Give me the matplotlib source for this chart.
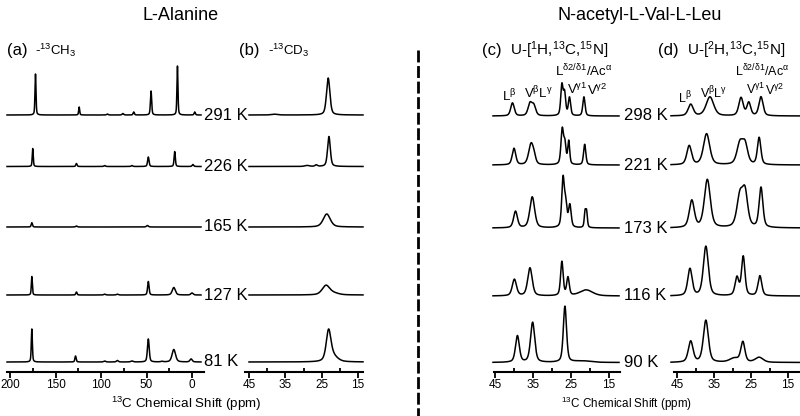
import numpy as np
import matplotlib
matplotlib.use('Agg')
import matplotlib.pyplot as plt
from matplotlib.lines import Line2D

plt.rcParams['font.family'] = ['Liberation Sans', 'DejaVu Sans']
plt.rcParams['mathtext.fontset'] = 'custom'
plt.rcParams['mathtext.rm'] = 'Liberation Sans'
plt.rcParams['mathtext.it'] = 'Liberation Sans:italic'
plt.rcParams['mathtext.bf'] = 'Liberation Sans:bold'

W, H = 800, 416

# temperatures (top to bottom)
ala_temps = ['291 K', '226 K', '165 K', '127 K', '81 K']
dip_temps = ['298 K', '221 K', '173 K', '116 K', '90 K']

# (a) L-alanine -13CH3 : peak position (ppm), height, width (ppm)
a_pos = [[172, 124, 93, 76, 64, 45, 16, -3],
         [175, 127, 96, 66, 48, 19, -1],
         [176, 127, 49],
         [176, 127, 96, 82, 48, 20, 0],
         [176, 128, 96, 82, 66, 48, 33, 20, 1]]
a_amp = [[41, 8, 1, 1.5, 3, 24, 49, 3],
         [18, 3, 1, 1, 9.5, 15, 2],
         [4.3, 1, 1.5],
         [18.5, 3, 0.8, 0.8, 13.5, 7.5, 2],
         [33, 6, 1, 1.5, 1, 23, 0.6, 12.5, 3]]
a_fwhm = [[1.3, 1.3, 2, 2, 1.6, 1.6, 1.3, 1.6],
          [1.3, 1.6, 2, 2, 1.9, 1.6, 2],
          [1.6, 2, 2.5],
          [1.3, 1.6, 2.5, 2.5, 1.9, 4, 3],
          [1.4, 1.6, 2.5, 2.5, 3, 2.3, 3, 4.5, 3]]

# (b) L-alanine -13CD3
b_pos = [[23.2, 38],
         [23.0, 26.5, 29],
         [23.6],
         [23.8, 21.5],
         [23.1, 22.0]]
b_amp = [[37, 0.8],
         [30, 1.5, 1],
         [13],
         [9.5, 1.5],
         [29, 6]]
b_fwhm = [[1.1, 2],
          [0.9, 0.8, 1.5],
          [2.3],
          [2.5, 3],
          [1.5, 3]]

# (c) N-Ac-Val-Leu U-[1H,13C,15N]
c_pos = [[40.4, 35.8, 34.8, 27.4, 26.7, 25.4, 21.6],
         [40.0, 35.5, 34.7, 27.3, 26.6, 25.6, 21.4],
         [39.6, 35.2, 27.1, 26.4, 25.3, 21.3, 20.9],
         [39.9, 35.8, 27.4, 25.8, 21.0],
         [39.1, 35.1, 26.6, 22.0]]
c_amp = [[13, 12, 10, 30, 22, 18, 19],
         [16.5, 21, 5, 35, 19, 23, 20.5],
         [16.5, 31, 48, 22, 22, 15, 15],
         [16.5, 28, 34, 18, 6],
         [26.5, 40, 56, 1.5]]
c_fwhm = [[1.1, 1.2, 1.2, 0.7, 0.7, 0.7, 0.7],
          [1.1, 1.5, 1.0, 0.8, 0.7, 0.6, 0.7],
          [1.2, 1.5, 0.8, 0.8, 0.8, 0.5, 0.5],
          [1.3, 1.4, 0.8, 0.8, 4],
          [1.2, 1.3, 1.0, 5]]

# (d) N-Ac-Val-Leu U-[2H,13C,15N]
d_pos = [[41.3, 36.1, 27.7, 25.6, 22.3],
         [41.7, 37.0, 28.0, 26.6, 22.8],
         [41.0, 36.8, 28.0, 26.6, 22.3],
         [41.5, 37.2, 28.8, 27.1, 22.6],
         [41.3, 37.2, 29.5, 27.2, 22.8]]
d_amp = [[11.5, 19, 18, 13, 19],
         [19, 31, 21, 19, 27],
         [27, 48, 31, 33, 40],
         [27, 49.5, 18, 39, 20],
         [21, 42, 4, 20, 5]]
d_fwhm = [[1.6, 2.4, 1.4, 1.2, 1.3],
          [1.5, 2.0, 1.9, 1.7, 1.1],
          [1.6, 1.9, 1.9, 1.7, 1.2],
          [1.4, 1.6, 1.2, 1.1, 1.2],
          [1.5, 1.6, 3, 1.3, 2.5]]


def spectrum(x, pos, amp, fwhm, eta=0.45):
    y = np.zeros_like(x)
    for p, a, w in zip(pos, amp, fwhm):
        d = (x - p) / (w / 2)
        y += a * (eta / (1 + d ** 2) + (1 - eta) * np.exp(-np.log(2) * d ** 2))
    return y


def px(x, y):
    return x / W, 1 - y / H


fig = plt.figure(figsize=(8, 4.16), dpi=100)

axis_y = 372
top_y = 40
# baselines (pixel rows) of the five stacked spectra
ala_rows = [115, 166.5, 227, 295, 362]
dip_rows = [116, 165, 228, 296, 362.5]

# panel: axis extent, trace extent, two reference ticks (px, ppm), ticks, data, rows
panels = [
    (7, 204, 7, 201, (10, 200), (192, 0), [200, 150, 100, 50, 0], [175, 125, 75, 25],
     a_pos, a_amp, a_fwhm, ala_rows),
    (245, 363, 249, 363, (249, 45), (358, 15), [45, 35, 25, 15], [40, 30, 20],
     b_pos, b_amp, b_fwhm, ala_rows),
    (494, 620, 493, 619, (495, 45), (609, 15), [45, 35, 25, 15], [40, 30, 20],
     c_pos, c_amp, c_fwhm, dip_rows),
    (674, 800, 671, 800, (677, 45), (788, 15), [45, 35, 25, 15], [40, 30, 20],
     d_pos, d_amp, d_fwhm, dip_rows),
]

for x0, x1, t0, t1, r0, r1, major, minor, pos, amp, fwhm, rows in panels:
    l, b = px(x0, axis_y)
    ax = fig.add_axes([l, b, (x1 - x0) / W, (axis_y - top_y) / H])
    k = (r1[1] - r0[1]) / (r1[0] - r0[0])
    ax.set_xlim(r0[1] + (x0 - r0[0]) * k, r0[1] + (x1 - r0[0]) * k)
    ax.set_ylim(0, axis_y - top_y)
    x = np.linspace(r0[1] + (t0 - r0[0]) * k, r0[1] + (t1 - r0[0]) * k, 4000)
    for i in range(5):
        off = axis_y - rows[i]
        ax.plot(x, off + spectrum(x, pos[i], amp[i], fwhm[i]), color='black', lw=1.1,
                clip_on=False)
    for s in ['top', 'left', 'right']:
        ax.spines[s].set_visible(False)
    ax.spines['bottom'].set_linewidth(1.5)
    ax.set_yticks([])
    ax.set_xticks(major)
    ax.set_xticks(minor, minor=True)
    ax.tick_params(axis='x', which='major', direction='out', length=4, width=1.3,
                   labelsize=8.5, pad=1)
    ax.tick_params(axis='x', which='minor', direction='in', length=3, width=1.3)

# temperature labels
for t, r in zip(ala_temps, ala_rows):
    fig.text(*px(204, r), t, fontsize=12, va='center', ha='left')
for t, r in zip(dip_temps, dip_rows):
    fig.text(*px(624, r), t, fontsize=12, va='center', ha='left')

# titles
fig.text(*px(181, 16), 'L-Alanine', fontsize=13, ha='center', va='center')
fig.text(*px(640, 16), 'N-acetyl-L-Val-L-Leu', fontsize=13, ha='center', va='center')

# panel labels
fig.text(*px(7, 50), '(a)', fontsize=12, va='center')
fig.text(*px(35, 50), r'-$^{\mathrm{13}}$CH$_{\mathrm{3}}$', fontsize=9.5, va='center')
fig.text(*px(239, 50), '(b)', fontsize=12, va='center')
fig.text(*px(268, 50), r'-$^{\mathrm{13}}$CD$_{\mathrm{3}}$', fontsize=9.5, va='center')
fig.text(*px(482, 50), '(c)', fontsize=12, va='center')
fig.text(*px(510, 50), r'U-[$^{\mathrm{1}}$H,$^{\mathrm{13}}$C,$^{\mathrm{15}}$N]', fontsize=11, va='center')
fig.text(*px(658, 50), '(d)', fontsize=12, va='center')
fig.text(*px(687, 50), r'U-[$^{\mathrm{2}}$H,$^{\mathrm{13}}$C,$^{\mathrm{15}}$N]', fontsize=11, va='center')

# peak assignments
c_labels = [(502, 96, r'L$^{\mathrm{β}}$'), (524, 93, r'V$^{\mathrm{β}}$L$^{\mathrm{γ}}$'),
            (555, 71, r'L$^{\mathrm{δ2/δ1}}$/Ac$^{\mathrm{α}}$'),
            (567, 89, r'V$^{\mathrm{γ1}}$'), (587, 90, r'V$^{\mathrm{γ2}}$')]
d_labels = [(678, 98, r'L$^{\mathrm{β}}$'), (700, 93, r'V$^{\mathrm{β}}$L$^{\mathrm{γ}}$'),
            (735, 71, r'L$^{\mathrm{δ2/δ1}}$/Ac$^{\mathrm{α}}$'),
            (746, 89, r'V$^{\mathrm{γ1}}$'), (765, 90, r'V$^{\mathrm{γ2}}$')]
for xx, yy, s in c_labels:
    fig.text(*px(xx, yy), s, fontsize=9.5, va='center')
for xx, yy, s in d_labels:
    fig.text(*px(xx, yy), s, fontsize=9, va='center')

# axis titles
fig.text(*px(186, 404), r'$^{\mathrm{13}}$C Chemical Shift (ppm)', fontsize=9.6, ha='center', va='center')
fig.text(*px(627, 404), r'$^{\mathrm{13}}$C Chemical Shift (ppm)', fontsize=8.4, ha='center', va='center')

# dashed separator
fig.add_artist(Line2D([418 / W, 418 / W], [1 - 50 / H, 0], color='black', lw=2,
                      linestyle=(0, (4.3, 1.3))))

fig.savefig('out.png', dpi=100)
